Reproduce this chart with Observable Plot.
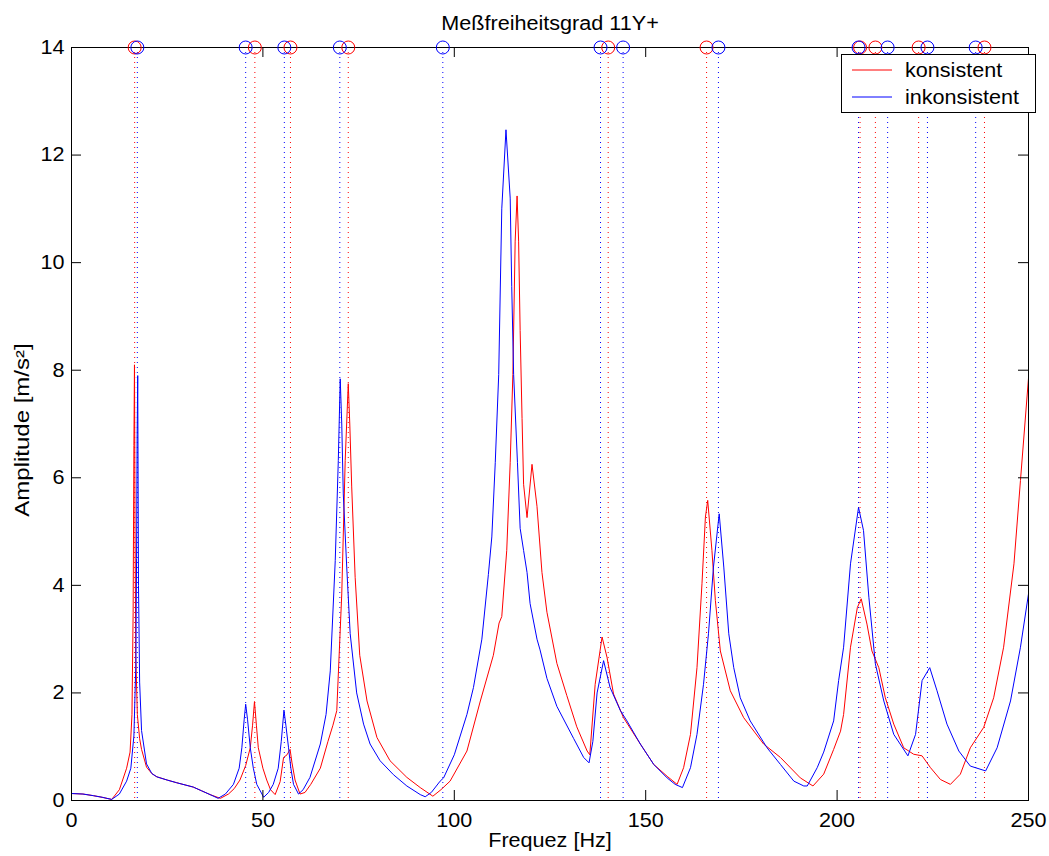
<!DOCTYPE html>
<html>
<head>
<meta charset="utf-8">
<script src="https://cdn.jsdelivr.net/npm/d3@7"></script>
<script src="https://cdn.jsdelivr.net/npm/@observablehq/plot@0.6"></script>
<style>
  body { margin: 0; background: #fff; }
  #wrap { position: relative; width: 1049px; height: 856px; font-family: "Liberation Sans", Arial, sans-serif; color: #000; }
  #title { position: relative; height: 30px; }
  #title span { position: absolute; left: 549.5px; top: 13px; font-size: 20px; line-height: 20px; white-space: nowrap; transform: translateX(-50%) scaleX(1.08); }
  #legend { position: absolute; left: 841px; top: 54px; width: 193px; height: 57px; border: 1px solid #000; background: #fff; }
  #legend svg { display: block; }
</style>
</head>
<body>
<div id="wrap">
  <div id="title"><span></span></div>
  <div id="chart"></div>
  <div id="legend"></div>
</div>
<script>
// ---------- data ----------
const title = "Meßfreiheitsgrad 11Y+";
const xLabel = "Frequez [Hz]";
const yLabel = "Amplitude [m/s²]";
const seriesNames = ["konsistent", "inkonsistent"];
const seriesColors = ["#ff0000", "#0000ff"];
const xTicks = [0, 50, 100, 150, 200, 250];
const yTicks = [0, 2, 4, 6, 8, 10, 12, 14];

// konsistent (red)
const freqRed = [0, 3, 5.7, 8, 10.5, 12.5, 14.4, 15.3, 15.8, 16.1, 16.3, 16.45, 16.6, 16.8, 17.2, 17.8, 18.3, 19.6, 21, 22.3, 25, 27.5, 31.8, 34, 36.2, 38.9,
  41, 42.5, 44, 45.5, 46.7, 47.3, 47.8, 48.3, 48.8, 50, 51, 52, 53.2, 54.5, 55.4, 56.3, 57.1, 57.6, 58.4, 59.7, 61, 62.5, 65, 67, 68.3, 69.3, 70.6, 71.5, 72.3, 72.7, 73.2, 74.1, 75.3, 77.2, 79.8, 83.2, 87.6, 91.1, 94.4, 96.5, 98.9,
  103.3, 106.8, 110.2, 111.7, 112.4, 113.7, 114.6, 115.3, 115.9, 116.4, 116.8, 117.2, 117.7, 118.1, 119, 120.3, 121.6, 122.9, 124.2, 126.8, 129.4, 132, 134.7, 135.4, 136.8, 138.6, 139.9, 141.6, 144.2, 148.6,
  152.1, 155.6, 158.2, 159.9, 161.7, 163.4, 164.7, 165.6, 166.2, 167.3, 168.2, 169.5, 172.1, 175.6, 180.8, 185.2, 190.4, 193.7, 196.5, 199.1, 200.9, 201.7, 203.5, 205.3, 206.3, 207.8, 209.1, 210.9, 212.6, 214.8, 217.4,
  220, 222.2, 224.4, 227, 229.6, 232.2, 234.8, 238.3, 240.9, 243.5, 246.2, 247.9, 250];
const ampRed = [0.13, 0.12, 0.09, 0.06, 0.02, 0.2, 0.6, 0.9, 1.6, 3.5, 6.6, 8.1, 5.0, 2.7, 1.6, 1.15, 0.95, 0.62, 0.5, 0.44, 0.38, 0.33, 0.25, 0.18, 0.11, 0.04,
  0.12, 0.22, 0.38, 0.65, 0.98, 1.4, 1.84, 1.4, 0.98, 0.6, 0.38, 0.2, 0.11, 0.35, 0.8, 0.85, 0.95, 0.7, 0.38, 0.12, 0.15, 0.3, 0.6, 1.1, 1.4, 1.67, 3.84, 6.32, 7.75, 7.0, 5.83, 4.15, 2.7, 1.85, 1.17, 0.74, 0.43, 0.24, 0.08, 0.2, 0.36,
  0.92, 1.85, 2.7, 3.3, 3.42, 4.65, 6.28, 7.92, 10.4, 11.24, 10.4, 8.74, 7.1, 5.88, 5.26, 6.25, 5.47, 4.24, 3.5, 2.55, 1.95, 1.37, 0.92, 0.85, 2.16, 3.04, 2.66, 1.98, 1.54, 1.05,
  0.67, 0.45, 0.3, 0.61, 1.23, 2.47, 4.03, 5.27, 5.58, 4.65, 3.72, 2.78, 2.04, 1.54, 1.05, 0.8, 0.42, 0.27, 0.49, 0.95, 1.29, 1.6, 2.85, 3.59, 3.75, 3.28, 2.78, 2.47, 1.91, 1.42, 0.98,
  0.86, 0.83, 0.61, 0.39, 0.3, 0.49, 0.98, 1.36, 1.91, 2.85, 4.4, 5.95, 7.85];

// inkonsistent (blue)
const freqBlue = [0, 3, 5.7, 8, 10.5, 12.5, 14.4, 15.5, 16.3, 16.8, 17.0, 17.15, 17.3, 17.5, 17.8, 18.3, 19.6, 21, 22.3, 25, 27.5, 31.8, 34, 36.2, 38.3,
  40.2, 42.3, 43.8, 44.5, 45.1, 45.5, 46, 46.7, 47.5, 48.4, 50.2, 51.5, 52.7, 54, 54.8, 55.5, 56, 56.7, 57.3, 58, 59.3, 60.5, 62.3, 65, 66.5, 67.6, 68.9, 69.7, 70.2, 70.6, 71, 71.9, 72.8, 74.5, 76.3, 78, 80.6, 84.1, 87.6, 91.1, 92.4, 94, 96.3, 97.2,
  100, 103.3, 105, 107.2, 108.9, 109.8, 110.7, 111.6, 112.4, 113.5, 114.6, 115, 115.5, 116.5, 117.2, 118.1, 119, 119.8, 121.6, 122.4, 124.2, 126.8, 131.2, 133.8, 135.2, 136.2, 137.3, 139, 140.7, 143.4, 145.1, 148.6,
  152.1, 155.6, 157.7, 159.6, 161.7, 163.4, 165.1, 166.4, 167.7, 169.2, 170.4, 171.7, 173, 174.7, 177.3, 181.7, 185.2, 188.7, 191.3, 192.2, 194.8, 196.5, 199.1, 200.4, 201.7, 203.5, 205.6, 206.9, 208.3, 210, 212.2, 214.8, 218.5,
  220.5, 222.2, 224.2, 226.1, 228.7, 231.8, 234.8, 238.8, 241.8, 245.3, 247.9, 250];
const ampBlue = [0.13, 0.12, 0.09, 0.06, 0.02, 0.12, 0.36, 0.6, 1.2, 2.5, 4.5, 6.8, 7.9, 4.0, 2.2, 1.3, 0.68, 0.5, 0.44, 0.38, 0.33, 0.25, 0.18, 0.11, 0.04,
  0.12, 0.3, 0.6, 0.98, 1.5, 1.79, 1.5, 0.98, 0.6, 0.3, 0.06, 0.15, 0.3, 0.6, 1.1, 1.68, 1.4, 0.98, 0.6, 0.3, 0.12, 0.2, 0.43, 1.05, 1.6, 2.41, 4.46, 6.32, 7.84, 7.0, 5.7, 4.34, 3.1, 2.0, 1.42, 1.05, 0.74, 0.48, 0.27, 0.11, 0.07, 0.15, 0.36, 0.42,
  0.85, 1.6, 2.1, 3.0, 4.2, 4.9, 6.28, 7.92, 11.0, 12.47, 11.2, 9.56, 7.92, 6.28, 5.06, 4.65, 4.24, 3.66, 3.0, 2.8, 2.27, 1.75, 1.15, 0.8, 0.7, 1.1, 2.0, 2.6, 2.1, 1.67, 1.48, 1.05,
  0.67, 0.42, 0.3, 0.24, 0.61, 1.23, 2.16, 3.1, 4.34, 5.33, 4.34, 3.1, 2.47, 1.91, 1.48, 0.98, 0.67, 0.36, 0.27, 0.27, 0.61, 0.9, 1.48, 2.23, 2.85, 4.4, 5.45, 5.02, 3.78, 2.54, 1.85, 1.23, 0.83,
  1.23, 2.23, 2.47, 2.04, 1.42, 0.92, 0.64, 0.55, 0.98, 1.85, 2.85, 3.84];

// identified mode frequencies (markers at the top)
const modesRed = [16.5, 47.9, 57.2, 72.3, 140.2, 165.9, 206.0, 210.0, 221.3, 238.5];
const modesBlue = [17.2, 45.5, 55.6, 70.1, 97.0, 138.2, 144.1, 169.0, 205.6, 213.2, 223.6, 236.2];

// ---------- build ----------
const red = freqRed.map((f, i) => ({f, a: ampRed[i]}));
const blue = freqBlue.map((f, i) => ({f, a: ampBlue[i]}));

const W = 1049, H = 826, mL = 71, mR = 21, mT = 17, mB = 56;
const iw = W - mL - mR, ih = H - mT - mB;
const tickLen = 10;

document.querySelector("#title span").textContent = title;

const chart = Plot.plot({
  width: W, height: H,
  marginLeft: mL, marginRight: mR, marginTop: mT, marginBottom: mB,
  x: {domain: [xTicks[0], xTicks[xTicks.length - 1]]},
  y: {domain: [yTicks[0], yTicks[yTicks.length - 1]]},
  style: {fontFamily: "'Liberation Sans', Arial, sans-serif", fontSize: "20px", background: "#fff", color: "#000", overflow: "visible"},
  marks: [
    Plot.ruleX(modesRed, {x: d => d, stroke: seriesColors[0], strokeWidth: 1, strokeDasharray: "1,4"}),
    Plot.ruleX(modesBlue, {x: d => d, stroke: seriesColors[1], strokeWidth: 1, strokeDasharray: "1,4"}),
    Plot.line(red, {x: "f", y: "a", stroke: seriesColors[0], strokeWidth: 1}),
    Plot.line(blue, {x: "f", y: "a", stroke: seriesColors[1], strokeWidth: 1}),
    Plot.tickX(xTicks, {x: d => d, insetTop: ih - tickLen, stroke: "#000"}),
    Plot.tickX(xTicks, {x: d => d, insetBottom: ih - tickLen, stroke: "#000"}),
    Plot.tickY(yTicks, {y: d => d, insetRight: iw - tickLen, stroke: "#000"}),
    Plot.tickY(yTicks, {y: d => d, insetLeft: iw - tickLen, stroke: "#000"}),
    Plot.frame({stroke: "#000"}),
    Plot.dot(modesRed, {x: d => d, frameAnchor: "top", r: 6.5, stroke: seriesColors[0], strokeWidth: 1}),
    Plot.dot(modesBlue, {x: d => d, frameAnchor: "top", r: 6.5, stroke: seriesColors[1], strokeWidth: 1}),
    Plot.axisX({ticks: xTicks, tickSize: 0, tickPadding: 12, tickFormat: d => String(d), label: null}),
    Plot.axisY({ticks: yTicks, tickSize: 0, tickPadding: 7, tickFormat: d => String(d), label: null}),
    Plot.text([xLabel], {text: d => d, frameAnchor: "bottom", dy: 46, textAnchor: "middle", fill: "#000"}),
    Plot.text([yLabel], {text: d => d, frameAnchor: "left", dx: -49, dy: 6, rotate: -90, textAnchor: "middle", fill: "#000"})
  ]
});

// widen glyphs to match the stretched reference rendering
chart.querySelectorAll("text").forEach(t => {
  const tr = t.getAttribute("transform") || "";
  const isY = t.textContent === yLabel;
  t.setAttribute("transform", tr + (isY ? " scale(1.2,1)" : " scale(1.08,1)"));
});
document.getElementById("chart").appendChild(chart);

// legend
const lg = d3.select("#legend").append("svg").attr("width", 193).attr("height", 57);
seriesNames.forEach((name, i) => {
  const yy = 15 + i * 27;
  lg.append("line").attr("x1", 10).attr("x2", 50).attr("y1", yy).attr("y2", yy)
    .attr("stroke", seriesColors[i]).attr("stroke-width", 1);
  lg.append("text").attr("transform", `translate(63,${yy + 7}) scale(1.08,1)`)
    .attr("font-family", "'Liberation Sans', Arial, sans-serif").attr("font-size", 20)
    .text(name);
});
</script>
</body>
</html>
